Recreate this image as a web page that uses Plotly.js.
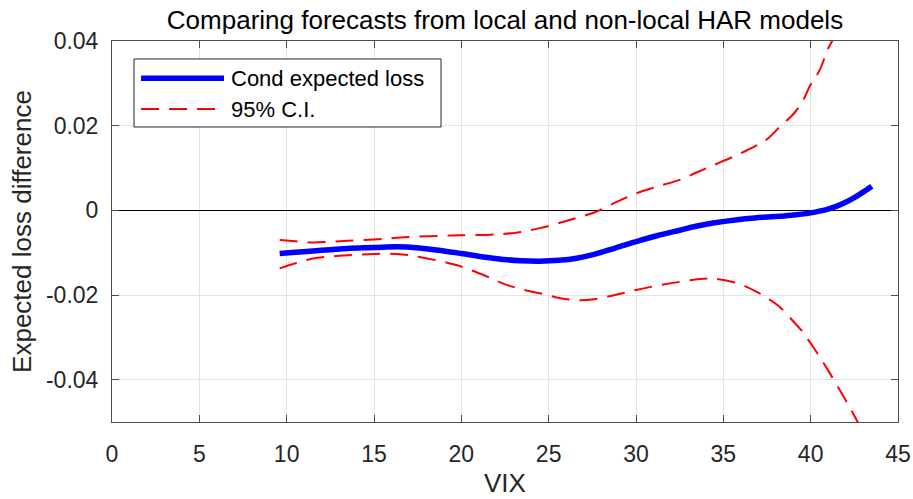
<!DOCTYPE html>
<html>
<head>
<meta charset="utf-8">
<script src="https://cdn.plot.ly/plotly-3.0.1.min.js"></script>
<style>
  html, body { margin: 0; padding: 0; background: #fff; }
  #chart { width: 913px; height: 499px; }
</style>
</head>
<body>
<div id="chart"></div>
<script>
// VIX grid on which the conditional expected loss difference is evaluated
const vix = [9.6, 10.5, 11.5, 12.5, 13.5, 15, 16.3, 17.6, 19, 20, 21.4, 22.4, 23.4, 24.5,
  25.6, 26.6, 27.6, 28.8, 30, 31.2, 32.5, 33.5, 34.4, 35.8, 36.8, 37.5, 38.2, 39,
  39.5, 40, 40.5, 41, 41.5, 42, 42.5, 43, 43.5];

// Conditional expected loss difference (local minus non-local HAR)
const condLoss = [-0.0102, -0.0099, -0.0096, -0.0093, -0.0090, -0.0088, -0.0086, -0.0089,
  -0.0096, -0.0102, -0.0111, -0.0116, -0.0119, -0.0120, -0.0118, -0.0113, -0.0104, -0.0089,
  -0.0074, -0.0060, -0.0047, -0.0037, -0.0030, -0.0022, -0.0018, -0.0016, -0.0014,
  -0.0011, -0.0009, -0.0006, -0.0002, 0.0003, 0.0010, 0.0019, 0.0030, 0.0043, 0.0057];

// Upper and lower bounds of the 95% confidence interval
const ciUpper = [-0.0070, -0.0073, -0.0076, -0.0074, -0.0072, -0.0069, -0.0065, -0.0062,
  -0.0060, -0.0059, -0.0058, -0.0056, -0.0051, -0.0042, -0.0030, -0.0018, -0.0005, 0.0018,
  0.0040, 0.0056, 0.0072, 0.0090, 0.0106, 0.0131, 0.0151, 0.0168, 0.0196, 0.0227,
  0.0255, 0.0297, 0.0330, 0.0382, 0.0420, 0.0455, 0.0490, 0.0530, 0.0575];

const ciLower = [-0.0137, -0.0125, -0.0114, -0.0109, -0.0106, -0.0103, -0.0103, -0.0110,
  -0.0122, -0.0133, -0.0155, -0.0173, -0.0186, -0.0196, -0.0207, -0.0212, -0.0210, -0.0200,
  -0.0188, -0.0178, -0.0169, -0.0163, -0.0161, -0.0172, -0.0190, -0.0207, -0.0227,
  -0.0262, -0.0285, -0.0314, -0.0345, -0.0378, -0.0413, -0.0448, -0.0485, -0.0525, -0.0570];

// Axis ticks
const xTickVals = [0, 5, 10, 15, 20, 25, 30, 35, 40, 45];
const yTickVals = [-0.04, -0.02, 0, 0.02, 0.04];
const yTickText = ['-0.04', '-0.02', '0', '0.02', '0.04'];

const seriesNames = ['Cond expected loss', '95% C.I.'];

const FONT = 'Liberation Sans, Arial, Helvetica, sans-serif';
const BLUE = '#0000ff';
const RED = '#ff0000';
const RED_DASH = '18px,10px';

const traces = [
  {
    x: vix, y: ciUpper, type: 'scatter', mode: 'lines', name: seriesNames[1],
    line: { color: RED, width: 2, dash: RED_DASH, shape: 'spline', smoothing: 1 },
    showlegend: false, hoverinfo: 'skip'
  },
  {
    x: vix, y: ciLower, type: 'scatter', mode: 'lines', name: seriesNames[1],
    line: { color: RED, width: 2, dash: RED_DASH, shape: 'spline', smoothing: 1 },
    showlegend: false, hoverinfo: 'skip'
  },
  {
    x: vix, y: condLoss, type: 'scatter', mode: 'lines', name: seriesNames[0],
    line: { color: BLUE, width: 5.5, shape: 'spline', smoothing: 1 },
    showlegend: false, hoverinfo: 'skip'
  }
];

// Boxed legend in the upper-left corner of the axes
const legX0 = 0.028, legX1 = 0.4186, legY0 = 0.7743, legY1 = 0.9528;
const sampleX0 = 0.037, sampleX1 = 0.1425, textX = 0.1489;
const rowY = [0.9021, 0.8215];

const shapes = [
  { type: 'rect', xref: 'paper', yref: 'paper', x0: legX0, x1: legX1, y0: legY0, y1: legY1,
    line: { color: '#262626', width: 1 }, fillcolor: '#ffffff', layer: 'above' },
  { type: 'line', xref: 'paper', yref: 'paper', x0: sampleX0, x1: sampleX1, y0: rowY[0], y1: rowY[0],
    line: { color: BLUE, width: 5.5 }, layer: 'above' },
  { type: 'line', xref: 'paper', yref: 'paper', x0: sampleX0, x1: sampleX1, y0: rowY[1], y1: rowY[1],
    line: { color: RED, width: 2, dash: RED_DASH }, layer: 'above' }
];

const annotations = seriesNames.map((name, i) => ({
  xref: 'paper', yref: 'paper', x: textX, y: rowY[i], xanchor: 'left', yanchor: 'middle',
  text: name, showarrow: false, font: { family: FONT, size: 22, color: '#000000' }
}));

const axisCommon = {
  showgrid: true, gridcolor: '#e3e3e3', gridwidth: 1,
  showline: true, linecolor: '#4d4d4d', linewidth: 1, mirror: 'ticks',
  ticks: 'inside', ticklen: 7, tickcolor: '#4d4d4d', tickwidth: 1,
  tickfont: { family: FONT, size: 23, color: '#262626' },
  fixedrange: true
};

const layout = {
  width: 913, height: 499,
  margin: { l: 112, r: 15, t: 41, b: 77, pad: 0 },
  paper_bgcolor: '#ffffff', plot_bgcolor: '#ffffff',
  font: { family: FONT, color: '#262626' },
  showlegend: false,
  title: {
    text: 'Comparing forecasts from local and non-local HAR models',
    font: { family: FONT, size: 26, color: '#000000' },
    x: 0.5, xref: 'paper', xanchor: 'center',
    y: 0.961, yref: 'container', yanchor: 'middle'
  },
  xaxis: Object.assign({}, axisCommon, {
    range: [0, 45], tickmode: 'array', tickvals: xTickVals,
    zeroline: false, ticklabelstandoff: 11,
    title: { text: 'VIX', font: { family: FONT, size: 26, color: '#262626' }, standoff: 8 }
  }),
  yaxis: Object.assign({}, axisCommon, {
    range: [-0.05, 0.04], tickmode: 'array', tickvals: yTickVals, ticktext: yTickText,
    zeroline: true, zerolinecolor: '#000000', zerolinewidth: 1, ticklabelstandoff: 8,
    title: { text: 'Expected loss difference', font: { family: FONT, size: 26, color: '#262626' }, standoff: 6 }
  }),
  shapes: shapes,
  annotations: annotations
};

Plotly.newPlot('chart', traces, layout, { displayModeBar: false, staticPlot: true });
</script>
</body>
</html>
